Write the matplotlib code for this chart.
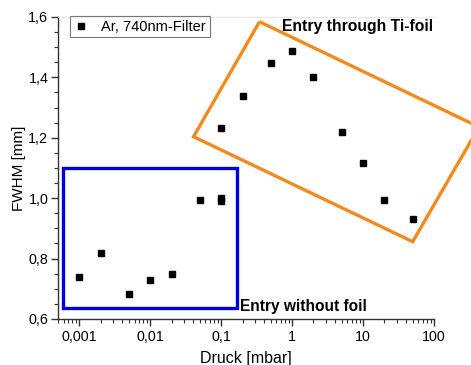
import matplotlib
matplotlib.use("Agg")
import matplotlib.pyplot as plt
from matplotlib.patches import Polygon, Rectangle
from matplotlib.ticker import FixedLocator, FuncFormatter, LogLocator, MultipleLocator, NullFormatter

plt.rcParams['font.family'] = ['Liberation Sans', 'DejaVu Sans']

pressure = [0.001, 0.002, 0.005, 0.01, 0.02, 0.05, 0.1, 0.1,
            0.1, 0.2, 0.5, 1, 2, 5, 10, 20, 50]
fwhm = [0.738, 0.82, 0.684, 0.729, 0.748, 0.993, 1.0, 0.99,
        1.231, 1.338, 1.449, 1.486, 1.40, 1.22, 1.116, 0.994, 0.931]

xticks = [0.001, 0.01, 0.1, 1, 10, 100]
xticklabels = ["0,001", "0,01", "0,1", "1", "10", "100"]
yticks = [0.6, 0.8, 1.0, 1.2, 1.4, 1.6]

fig = plt.figure(figsize=(4.71, 3.65), dpi=100)
W, H = 471, 365
ax = fig.add_axes([58 / W, 1 - 319 / H, (434 - 58) / W, (319 - 17) / H])

ax.set_xscale('log')
ax.set_xlim(5e-4, 100)
ax.set_ylim(0.6, 1.6)

ax.plot(pressure, fwhm, linestyle='none', marker='s', color='black',
        markersize=4.6, label='Ar, 740nm-Filter', zorder=5)

# blue box
blue = Rectangle((5.96e-4, 0.636), 0.168 - 5.96e-4, 1.1 - 0.636, fill=False,
                 edgecolor='#0000dd', linewidth=2.4, clip_on=False, zorder=3)
ax.add_patch(blue)

# orange rotated box (pixel -> data)
def px2data(px, py):
    lx = -3 + (px - 79) / 71.0
    return 10 ** lx, 1.6 - (py - 17) / 302.0

verts = [px2data(259.3, 21.7), px2data(479, 127), px2data(412.7, 241.7), px2data(193.3, 136.7)]
orange = Polygon(verts, closed=True, fill=False, edgecolor='#f28a1e',
                 linewidth=2.4, clip_on=False, zorder=3, joinstyle='miter')
ax.add_patch(orange)

ax.text(0.5 * (283 + 433) / W, 1 - 26 / H, "Entry through Ti-foil", transform=fig.transFigure,
        ha='center', va='center', fontsize=11.3, fontweight='bold', zorder=6)
ax.text(240 / W, 1 - 307 / H, "Entry without foil", transform=fig.transFigure,
        ha='left', va='center', fontsize=11.2, fontweight='bold', zorder=6)

ax.xaxis.set_major_locator(FixedLocator(xticks))
ax.set_xticklabels(xticklabels)
ax.xaxis.set_minor_locator(LogLocator(base=10, subs=range(2, 10), numticks=20))
ax.xaxis.set_minor_formatter(NullFormatter())

ax.yaxis.set_major_locator(FixedLocator(yticks))
ax.yaxis.set_major_formatter(FuncFormatter(lambda v, p: f"{v:.1f}".replace('.', ',')))
ax.yaxis.set_minor_locator(MultipleLocator(0.05))

ax.tick_params(which='major', direction='out', length=5, width=1, labelsize=10.3, color='#333333')
ax.tick_params(which='minor', direction='out', length=3, width=0.8, color='#333333')
ax.tick_params(axis='x', pad=3)
ax.tick_params(axis='y', pad=2)

for s in ['left', 'bottom']:
    ax.spines[s].set_color('#333333')
    ax.spines[s].set_linewidth(1.0)
ax.spines['right'].set_visible(False)
ax.spines['top'].set_color('#e6e6e6')

ax.set_xlabel("Druck [mbar]", fontsize=11.5, labelpad=5)
ax.set_ylabel("FWHM [mm]", fontsize=11, labelpad=2)

leg = ax.legend(loc='upper left', bbox_to_anchor=(70 / W, 1 - 16 / H),
                bbox_transform=fig.transFigure, fontsize=10.5, frameon=True,
                fancybox=False, edgecolor='#555555', handlelength=1.0,
                handletextpad=0.9, borderpad=0.25, borderaxespad=0, markerscale=1.0)
leg.get_frame().set_linewidth(0.8)

fig.savefig("out.png", dpi=100)
